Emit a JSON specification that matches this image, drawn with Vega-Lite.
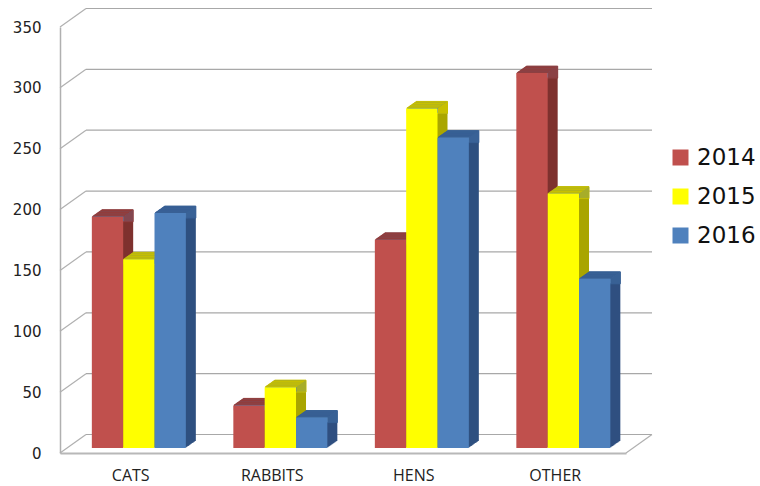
{"$schema":"https://vega.github.io/schema/vega-lite/v6.json","width":566,"height":426,"autosize":{"type":"none"},"padding":{"left":60,"top":27,"right":134,"bottom":33},"background":"white",
"datasets":{"bars":[{"c":"CATS","year":"2014","v":190},{"c":"CATS","year":"2015","v":155},{"c":"CATS","year":"2016","v":193},{"c":"RABBITS","year":"2014","v":35},{"c":"RABBITS","year":"2015","v":50},{"c":"RABBITS","year":"2016","v":25},{"c":"HENS","year":"2014","v":171},{"c":"HENS","year":"2015","v":279},{"c":"HENS","year":"2016","v":255},{"c":"OTHER","year":"2014","v":308},{"c":"OTHER","year":"2015","v":209},{"c":"OTHER","year":"2016","v":139}],"grid":[{"g":0},{"g":50},{"g":100},{"g":150},{"g":200},{"g":250},{"g":300},{"g":350}]},
"data":{"name":"bars"},
"config":{"view":{"stroke":null}},
"resolve":{"scale":{"xOffset":"independent"}},
"encoding":{
"x":{"field":"c","type":"nominal","title":null,"scale":{"domain":["CATS","RABBITS","HENS","OTHER"],"paddingInner":0.337,"paddingOuter":0.1685},"axis":{"labelAngle":0,"ticks":false,"domainColor":"#b8b8b8","domainWidth":2,"labelFont":"Open Sans","labelFontSize":16,"labelColor":"#222222","labelPadding":14}},
"y":{"field":"v","type":"quantitative","title":null,"scale":{"domain":[0,350],"nice":false},"axis":{"values":[0,50,100,150,200,250,300,350],"grid":false,"ticks":false,"domainColor":"#b0b0b0","domainWidth":1.5,"labelFont":"DejaVu Sans","labelFontSize":15,"labelColor":"#222222","labelPadding":19}}
},
"layer":[
{"data":{"name":"grid"},"mark":{"type":"rule","yOffset":-18.5,"color":"#a8a8a8","strokeWidth":1.2},"encoding":{"x":{"value":26},"x2":{"value":592},"y":{"field":"g","type":"quantitative","title":null}}},
{"data":{"name":"grid"},"mark":{"type":"point","shape":"M0,0L26,-18.5","size":4,"filled":false,"color":"#b0b0b0","strokeWidth":1.2,"opacity":1},"encoding":{"x":{"value":0},"y":{"field":"g","type":"quantitative","title":null}}},
{"data":{"values":[{"g":0}]},"mark":{"type":"point","shape":"M0,0L26,-18.5","size":4,"filled":false,"color":"#b0b0b0","strokeWidth":1.2,"opacity":1},"encoding":{"x":{"value":566},"y":{"field":"g","type":"quantitative","title":null}}},
{"mark":{"type":"bar","yOffset":-12},"encoding":{"xOffset":{"field":"year","type":"nominal","scale":{"range":[18,112],"paddingInner":0,"paddingOuter":0}},"fill":{"field":"year","type":"nominal","legend":null,"scale":{"domain":["2016","2015","2014"],"range":["#2f5080","#aaa600","#7f322f"]}}}},
{"mark":{"type":"bar","yOffset":-12,"strokeWidth":1},"encoding":{"xOffset":{"field":"year","type":"nominal","scale":{"range":[18,112],"paddingInner":0,"paddingOuter":0}},"y2":{"field":"v"},"stroke":{"field":"year","type":"nominal","legend":null,"scale":{"domain":["2015","2014","2016"],"range":["#c8c000","#943c3a","#375f94"]}}}},
{"mark":{"type":"bar","yOffset":-11.3},"encoding":{"xOffset":{"field":"year","type":"nominal","scale":{"range":[17,111],"paddingInner":0,"paddingOuter":0}},"fill":{"field":"year","type":"nominal","legend":null}}},
{"mark":{"type":"bar","yOffset":-11.3,"strokeWidth":1},"encoding":{"xOffset":{"field":"year","type":"nominal","scale":{"range":[17,111],"paddingInner":0,"paddingOuter":0}},"y2":{"field":"v"},"stroke":{"field":"year","type":"nominal","legend":null}}},
{"mark":{"type":"bar","yOffset":-10.6},"encoding":{"xOffset":{"field":"year","type":"nominal","scale":{"range":[16,110],"paddingInner":0,"paddingOuter":0}},"fill":{"field":"year","type":"nominal","legend":null}}},
{"mark":{"type":"bar","yOffset":-10.6,"strokeWidth":1},"encoding":{"xOffset":{"field":"year","type":"nominal","scale":{"range":[16,110],"paddingInner":0,"paddingOuter":0}},"y2":{"field":"v"},"stroke":{"field":"year","type":"nominal","legend":null}}},
{"mark":{"type":"bar","yOffset":-9.9},"encoding":{"xOffset":{"field":"year","type":"nominal","scale":{"range":[15,109],"paddingInner":0,"paddingOuter":0}},"fill":{"field":"year","type":"nominal","legend":null}}},
{"mark":{"type":"bar","yOffset":-9.9,"strokeWidth":1},"encoding":{"xOffset":{"field":"year","type":"nominal","scale":{"range":[15,109],"paddingInner":0,"paddingOuter":0}},"y2":{"field":"v"},"stroke":{"field":"year","type":"nominal","legend":null}}},
{"mark":{"type":"bar","yOffset":-9.2},"encoding":{"xOffset":{"field":"year","type":"nominal","scale":{"range":[14,108],"paddingInner":0,"paddingOuter":0}},"fill":{"field":"year","type":"nominal","legend":null}}},
{"mark":{"type":"bar","yOffset":-9.2,"strokeWidth":1},"encoding":{"xOffset":{"field":"year","type":"nominal","scale":{"range":[14,108],"paddingInner":0,"paddingOuter":0}},"y2":{"field":"v"},"stroke":{"field":"year","type":"nominal","legend":null}}},
{"mark":{"type":"bar","yOffset":-8.5},"encoding":{"xOffset":{"field":"year","type":"nominal","scale":{"range":[13,107],"paddingInner":0,"paddingOuter":0}},"fill":{"field":"year","type":"nominal","legend":null}}},
{"mark":{"type":"bar","yOffset":-8.5,"strokeWidth":1},"encoding":{"xOffset":{"field":"year","type":"nominal","scale":{"range":[13,107],"paddingInner":0,"paddingOuter":0}},"y2":{"field":"v"},"stroke":{"field":"year","type":"nominal","legend":null}}},
{"mark":{"type":"bar","yOffset":-7.8},"encoding":{"xOffset":{"field":"year","type":"nominal","scale":{"range":[12,106],"paddingInner":0,"paddingOuter":0}},"fill":{"field":"year","type":"nominal","legend":null}}},
{"mark":{"type":"bar","yOffset":-7.8,"strokeWidth":1},"encoding":{"xOffset":{"field":"year","type":"nominal","scale":{"range":[12,106],"paddingInner":0,"paddingOuter":0}},"y2":{"field":"v"},"stroke":{"field":"year","type":"nominal","legend":null}}},
{"mark":{"type":"bar","yOffset":-7.1},"encoding":{"xOffset":{"field":"year","type":"nominal","scale":{"range":[11,105],"paddingInner":0,"paddingOuter":0}},"fill":{"field":"year","type":"nominal","legend":null}}},
{"mark":{"type":"bar","yOffset":-7.1,"strokeWidth":1},"encoding":{"xOffset":{"field":"year","type":"nominal","scale":{"range":[11,105],"paddingInner":0,"paddingOuter":0}},"y2":{"field":"v"},"stroke":{"field":"year","type":"nominal","legend":null}}},
{"mark":{"type":"bar","yOffset":-6.4},"encoding":{"xOffset":{"field":"year","type":"nominal","scale":{"range":[10,104],"paddingInner":0,"paddingOuter":0}},"fill":{"field":"year","type":"nominal","legend":null}}},
{"mark":{"type":"bar","yOffset":-6.4,"strokeWidth":1},"encoding":{"xOffset":{"field":"year","type":"nominal","scale":{"range":[10,104],"paddingInner":0,"paddingOuter":0}},"y2":{"field":"v"},"stroke":{"field":"year","type":"nominal","legend":null}}},
{"mark":{"type":"bar","yOffset":-5.7},"encoding":{"xOffset":{"field":"year","type":"nominal","scale":{"range":[9,103],"paddingInner":0,"paddingOuter":0}},"fill":{"field":"year","type":"nominal","legend":null}}},
{"mark":{"type":"bar","yOffset":-5.7,"strokeWidth":1},"encoding":{"xOffset":{"field":"year","type":"nominal","scale":{"range":[9,103],"paddingInner":0,"paddingOuter":0}},"y2":{"field":"v"},"stroke":{"field":"year","type":"nominal","legend":null}}},
{"mark":{"type":"bar","yOffset":-5},"encoding":{"xOffset":{"field":"year","type":"nominal","scale":{"range":[8,102],"paddingInner":0,"paddingOuter":0}},"color":{"field":"year","type":"nominal","title":null,"scale":{"domain":["2014","2015","2016"],"range":["#c0504d","#ffff00","#4f81bd"]},"legend":{"orient":"none","legendX":609,"legendY":119,"symbolType":"square","symbolSize":256,"symbolStrokeWidth":0,"labelFont":"DejaVu Sans","labelFontSize":23,"labelColor":"#111111","labelOffset":5,"rowPadding":15,"labelLimit":120}}}}
]}
